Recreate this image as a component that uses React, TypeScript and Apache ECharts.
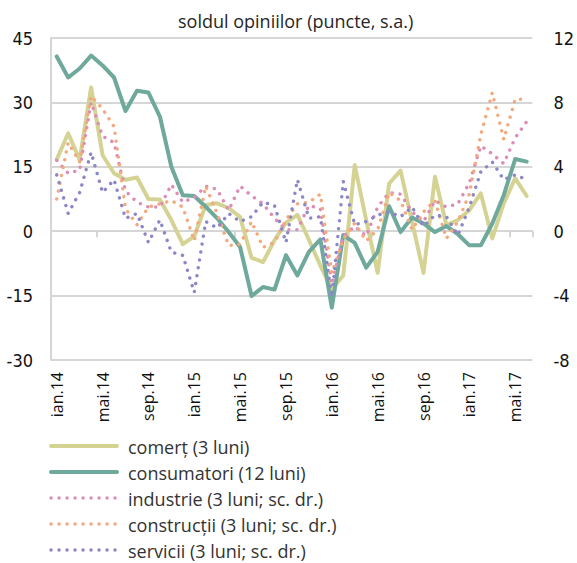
import React, { useEffect, useRef } from "react";
import * as echarts from "echarts";

const categories = [
  "ian.14", "feb.14", "mar.14", "apr.14", "mai.14", "iun.14", "iul.14", "aug.14", "sep.14", "oct.14", "noi.14", "dec.14",
  "ian.15", "feb.15", "mar.15", "apr.15", "mai.15", "iun.15", "iul.15", "aug.15", "sep.15", "oct.15", "noi.15", "dec.15",
  "ian.16", "feb.16", "mar.16", "apr.16", "mai.16", "iun.16", "iul.16", "aug.16", "sep.16", "oct.16", "noi.16", "dec.16",
  "ian.17", "feb.17", "mar.17", "apr.17", "mai.17", "iun.17",
];

// left axis
const comert = [
  16.7, 22.8, 16.6, 33.5, 17.7, 13.5, 12.0, 12.5, 7.5, 7.4, 2.6, -3.0,
  -1.2, 6.1, 6.5, 5.4, 3.3, -6.2, -7.2, -2.1, 2.0, 3.8, -2.0, -8.0,
  -13.5, -10.3, 15.4, 2.6, -9.7, 11.1, 14.1, 2.2, -9.7, 12.7, 1.4, 2.6,
  4.9, 8.8, -1.7, 6.5, 12.3, 8.2,
];
const consumatori = [
  40.7, 35.8, 37.9, 40.9, 38.6, 35.8, 28.0, 32.7, 32.3, 26.7, 15.0, 8.4,
  8.2, 5.7, 3.0, -0.2, -3.7, -15.1, -13.0, -13.6, -5.6, -10.3, -4.8, -1.9,
  -17.8, -0.9, -2.7, -8.5, -4.8, 5.8, -0.2, 3.2, 1.8, -0.2, 1.2, -0.7,
  -3.3, -3.3, 1.8, 8.4, 16.8, 16.2,
];
// right axis
const industrie = [
  4.4, 3.6, 3.8, 8.0, 5.9, 5.5, 2.5, 1.8, 1.5, 1.5, 2.9, 1.8,
  2.1, 2.8, 2.6, 1.3, 2.8, 2.2, 1.7, 0.8, 0.1, 0.1, 1.6, 1.4,
  -3.3, -0.3, 0.3, -0.3, 1.5, 2.4, 2.3, 1.2, 0.6, 1.9, 1.5, 1.7,
  3.0, 5.3, 4.8, 4.2, 5.8, 6.8,
];
const constructii = [
  2.0, 5.5, 4.3, 8.4, 7.6, 6.5, 1.4, 0.4, 1.5, 1.7, 1.9, 1.5,
  -0.6, 2.8, 1.1, -0.9, -0.8, 0.6, -1.0, -0.7, 0.7, 1.7, 1.8, 2.3,
  -2.6, -0.5, 0.5, -0.6, 0.1, 2.4, 1.9, 0.1, 1.2, 1.9, -0.45, 0.6,
  2.3, 6.0, 8.6, 5.7, 8.2, 8.2,
];
const servicii = [
  3.5, 1.1, 2.4, 4.9, 2.4, 3.2, 0.8, 1.1, -0.7, 0.7, -1.3, -1.5,
  -3.8, 0.6, 0.2, 1.1, 0.6, 0.9, 1.8, 1.6, -0.7, 3.2, 0.8, 0.9,
  -4.1, 3.1, 0.4, 0.6, 1.0, 1.2, 0.9, 1.5, 0.3, 1.0, 0.9, -0.25,
  1.5, 3.7, 4.3, 3.2, 3.5, 3.2,
];

const seriesNames = [
  "comerț (3 luni)",
  "consumatori (12 luni)",
  "industrie (3 luni; sc. dr.)",
  "construcții (3 luni; sc. dr.)",
  "servicii (3 luni; sc. dr.)",
];
const colors = ["#d5d394", "#6ea99c", "#dc8cb6", "#f3a97d", "#8c87c7"];
const isDotted = [false, false, true, true, true];

const GRID = "#d6d6d6";
const LABEL_FONT = "'Liberation Sans Narrow', 'DejaVu Sans Condensed', 'Open Sans', sans-serif";
const TEXT_FONT = "'Open Sans', 'Noto Sans', sans-serif";
const DOT_DASH = [0.1, 7.9];

export default function App() {
  const ref = useRef<HTMLDivElement>(null);
  useEffect(() => {
    document.body.style.margin = "0";
    if (!ref.current) return;
    const chart = echarts.init(ref.current, undefined, { renderer: "svg" });
    const makeSeries = (i: number, data: number[]) => ({
      name: seriesNames[i],
      type: "line",
      xAxisIndex: 0,
      yAxisIndex: isDotted[i] ? 1 : 0,
      data,
      symbol: "none",
      lineStyle: isDotted[i]
        ? { color: colors[i], width: 3.4, type: DOT_DASH, cap: "round", join: "round" }
        : { color: colors[i], width: 4, cap: "round", join: "round" },
      itemStyle: { color: colors[i] },
    });

    const legendTop = 446;
    const legendStep = 26;
    const legendGraphics: any[] = [];
    seriesNames.forEach((name, i) => {
      const y = legendTop + i * legendStep;
      legendGraphics.push({
        type: "line",
        shape: { x1: 51, y1: y, x2: 117, y2: y },
        style: isDotted[i]
          ? { stroke: colors[i], lineWidth: 3.4, lineDash: DOT_DASH, lineCap: "round" }
          : { stroke: colors[i], lineWidth: 4, lineCap: "round" },
        silent: true,
      });
      legendGraphics.push({
        type: "text",
        x: 128,
        y: y + 0.5,
        style: {
          text: name,
          fontFamily: TEXT_FONT,
          fontSize: 18,
          fill: "#333",
          verticalAlign: "middle",
          align: "left",
        },
        silent: true,
      });
    });

    chart.setOption({
      animation: false,
      title: {
        text: "soldul opiniilor (puncte, s.a.)",
        left: 178,
        top: 12,
        padding: 0,
        textStyle: { fontFamily: TEXT_FONT, fontSize: 18, fontWeight: "normal", color: "#262626" },
      },
      grid: { left: 51, right: 36, top: 38, bottom: 203, containLabel: false },
      graphic: legendGraphics,
      xAxis: [
        {
          type: "category",
          data: categories,
          boundaryGap: true,
          position: "bottom",
          axisLine: { onZero: true, lineStyle: { color: GRID, width: 2 } },
          axisTick: {
            show: true,
            interval: (i: number) => i % 12 === 4,
            length: 6,
            lineStyle: { color: GRID, width: 2 },
          },
          axisLabel: { show: false },
          splitLine: { show: false },
        },
        {
          type: "category",
          data: categories,
          boundaryGap: true,
          position: "bottom",
          axisLine: { show: false, onZero: false },
          axisTick: { show: false },
          axisLabel: {
            show: true,
            interval: 3,
            rotate: 90,
            margin: 12,
            fontFamily: TEXT_FONT,
            fontSize: 16,
            color: "#111",
          },
        },
      ],
      yAxis: [
        {
          type: "value",
          min: -30,
          max: 45,
          interval: 15,
          position: "left",
          axisLine: { show: true, onZero: false, lineStyle: { color: GRID, width: 2 } },
          axisTick: { show: false },
          splitLine: { show: true, lineStyle: { color: GRID, width: 2 } },
          axisLabel: { margin: 18, fontFamily: LABEL_FONT, fontSize: 18, color: "#111" },
        },
        {
          type: "value",
          min: -8,
          max: 12,
          interval: 4,
          position: "right",
          axisLine: { show: false },
          axisTick: { show: false },
          splitLine: { show: false },
          axisLabel: { margin: 21, fontFamily: LABEL_FONT, fontSize: 18, color: "#111" },
        },
      ],
      series: [
        makeSeries(0, comert),
        makeSeries(1, consumatori),
        makeSeries(2, industrie),
        makeSeries(3, constructii),
        makeSeries(4, servicii),
      ],
    });
    return () => chart.dispose();
  }, []);
  return <div ref={ref} style={{ width: 577, height: 563 }} />;
}
